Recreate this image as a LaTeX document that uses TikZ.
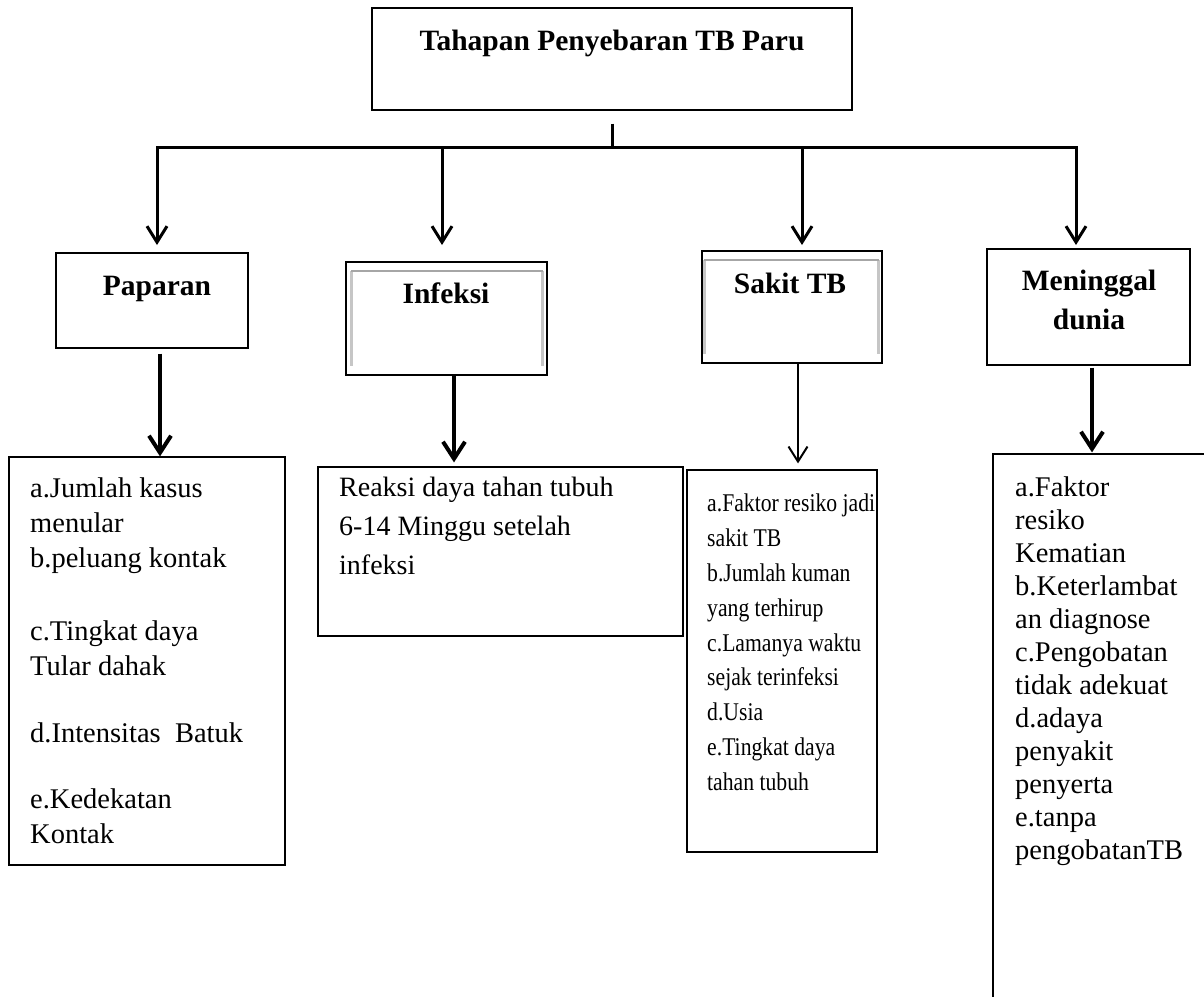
\documentclass[tikz,border=0pt]{standalone}
\usepackage{fontspec}
\setmainfont{Liberation Serif}
\newfontfamily\narrowserif[FakeStretch=0.85]{Liberation Serif}
\usetikzlibrary{positioning,arrows.meta}

\begin{document}
\begin{tikzpicture}[
    x=1pt, y=-1pt,
    frame/.style={draw, line width=1.2pt, inner sep=0pt},
    head/.style={font=\fontsize{29.5}{39}\selectfont\bfseries, anchor=base, align=center, inner sep=0pt},
    items/.style={anchor=north west, align=left, inner sep=0pt},
    drop/.style={line width=3pt, -{Straight Barb[length=16pt,width=20pt]}},
    fatdrop/.style={line width=4pt, -{Straight Barb[length=17pt,width=22pt]}},
    thindrop/.style={line width=2pt, -{Straight Barb[length=15pt,width=19pt]}},
    rimtop/.style={draw=gray!70, line width=2pt},
    rimside/.style={draw=gray!45, line width=3pt},
  ]
  \clip (0,0) rectangle (1204,996);

  % judul
  \node[frame, minimum width=480pt, minimum height=102pt] (tahap) at (612,59) {};
  \node[head] (tahap-t) at (612,50) {Tahapan Penyebaran TB Paru};

  % tahapan
  \node[frame, minimum width=192pt, minimum height=95pt] (paparan) at (152,300.5) {};
  \node[head] (paparan-t) at (157,295) {Paparan};
  \node[frame, minimum width=201pt, minimum height=113pt] (infeksi) at (446.5,318.5) {};
  \node[head] (infeksi-t) at (446,303) {Infeksi};
  \node[frame, minimum width=180pt, minimum height=112pt] (sakit) at (792,307) {};
  \node[head] (sakit-t) at (790,293) {Sakit TB};
  \node[frame, minimum width=203pt, minimum height=116pt] (meninggal) at (1088.5,307) {};
  \node[head, anchor=north] (meninggal-t) at (1089,270) {Meninggal\\dunia};

  % bingkai dalam
  \draw[rimside] ([xshift=6pt,yshift=-10pt]infeksi.north west) -- ([xshift=6pt,yshift=10pt]infeksi.south west);
  \draw[rimside] ([xshift=-5pt,yshift=-10pt]infeksi.north east) -- ([xshift=-5pt,yshift=10pt]infeksi.south east);
  \draw[rimtop] ([xshift=6pt,yshift=-10pt]infeksi.north west) -- ([xshift=-5pt,yshift=-10pt]infeksi.north east);
  \draw[rimside] ([xshift=3pt,yshift=-10pt]sakit.north west) -- ([xshift=3pt,yshift=10pt]sakit.south west);
  \draw[rimside] ([xshift=-4pt,yshift=-10pt]sakit.north east) -- ([xshift=-4pt,yshift=10pt]sakit.south east);
  \draw[rimtop] ([xshift=3pt,yshift=-10pt]sakit.north west) -- ([xshift=-4pt,yshift=-10pt]sakit.north east);

  % daftar faktor
  \node[frame, minimum width=276pt, minimum height=408pt] (lpaparan) at (147,661) {};
  \node[items, font=\fontsize{28.5}{35}\selectfont] (lpaparan-t) at (30,478)
    {a.Jumlah kasus\\menular\\b.peluang kontak\\[38pt]c.Tingkat daya\\Tular dahak\\[32pt]d.Intensitas\ \ Batuk\\[31pt]e.Kedekatan\\Kontak};
  \node[frame, minimum width=365pt, minimum height=169pt] (linfeksi) at (500.5,551.5) {};
  \node[items, font=\fontsize{28}{39}\selectfont] (linfeksi-t) at (339,477)
    {Reaksi daya tahan tubuh\\6-14 Minggu setelah\\infeksi};
  \node[frame, minimum width=190pt, minimum height=382pt] (lsakit) at (782,661) {};
  \node[items, font=\narrowserif\fontsize{25.5}{34.8}\selectfont] (lsakit-t) at (707,494)
    {a.Faktor resiko jadi\\sakit TB\\b.Jumlah kuman\\yang terhirup\\c.Lamanya waktu\\sejak terinfeksi\\d.Usia\\e.Tingkat daya\\tahan tubuh};
  \node[frame, minimum width=230pt, minimum height=556pt] (lmeninggal) at (1108,732) {};
  \node[items, font=\fontsize{28.5}{33}\selectfont] (lmeninggal-t) at (1015,477)
    {a.Faktor\\resiko\\Kematian\\b.Keterlambat\\an diagnose\\c.Pengobatan\\tidak adekuat\\d.adaya\\penyakit\\penyerta\\e.tanpa\\pengobatanTB};

  % panah
  \coordinate (hub) at (612,147);
  \coordinate (tips) at (0,245);
  \coordinate (d2) at (442,147);
  \coordinate (d3) at (802,147);
  \draw[line width=3pt] ([yshift=-13pt]tahap.south) -- (hub);
  \draw[drop] (hub) -| (157,245);
  \draw[drop] (hub) -| (1076,245);
  \foreach \d in {d2,d3}
    \draw[drop] (\d) -- (\d |- tips);

  \draw[fatdrop] ([xshift=8pt,yshift=-5pt]paparan.south) -- ([xshift=13pt]lpaparan.north);
  \draw[fatdrop, shorten >=4pt] ([xshift=7.5pt]infeksi.south) -- ([xshift=-46.5pt]linfeksi.north);
  \draw[thindrop, shorten >=6pt] ([xshift=6pt]sakit.south) -- ([xshift=16pt]lsakit.north);
  \draw[fatdrop, shorten >=1pt] ([xshift=3.5pt,yshift=-2pt]meninggal.south) -- ([xshift=-16pt]lmeninggal.north);
\end{tikzpicture}
\end{document}
